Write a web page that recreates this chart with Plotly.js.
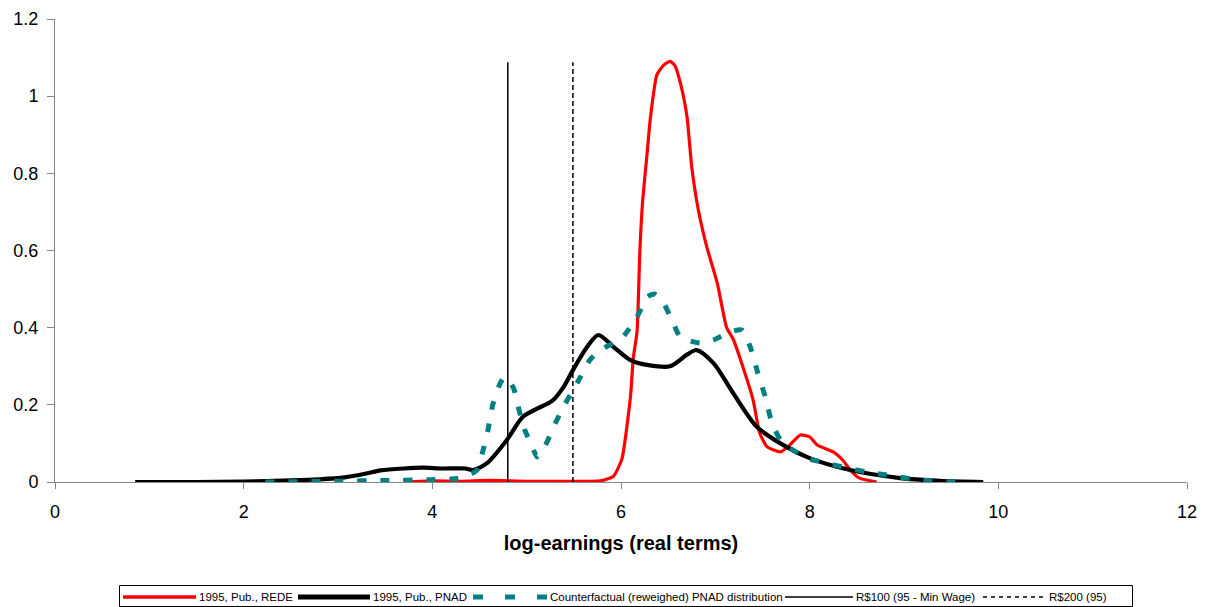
<!DOCTYPE html>
<html>
<head>
<meta charset="utf-8">
<script src="https://cdn.plot.ly/plotly-3.0.1.min.js"></script>
<style>
  html, body { margin: 0; padding: 0; background: #fff; }
  #chart { width: 1209px; height: 607px; }
</style>
</head>
<body>
<div id="chart"></div>
<script>
// Kernel density of log-earnings, public sector 1995
const redeX = [3.72, 4.0, 4.3, 4.6, 5.0, 5.4, 5.78, 5.92, 6.01, 6.10, 6.13, 6.17, 6.20, 6.23, 6.28, 6.31, 6.38, 6.45, 6.52, 6.57, 6.63, 6.70, 6.75, 6.82, 6.91, 7.02, 7.12, 7.19, 7.29, 7.40, 7.47, 7.55, 7.69, 7.79, 7.90, 8.00, 8.08, 8.25, 8.35, 8.43, 8.53, 8.71];
const redeY = [0, 0.003, 0.002, 0.004, 0.002, 0.002, 0.003, 0.015, 0.06, 0.22, 0.32, 0.39, 0.60, 0.73, 0.86, 0.94, 1.055, 1.08, 1.09, 1.08, 1.034, 0.946, 0.816, 0.705, 0.609, 0.516, 0.40, 0.37, 0.30, 0.213, 0.127, 0.091, 0.078, 0.096, 0.122, 0.117, 0.096, 0.078, 0.057, 0.031, 0.01, 0];

const pnadX = [0.85, 1.5, 2.0, 2.5, 2.8, 3.07, 3.3, 3.45, 3.7, 3.9, 4.1, 4.35, 4.43, 4.58, 4.79, 4.96, 5.11, 5.27, 5.39, 5.49, 5.64, 5.76, 5.92, 6.10, 6.29, 6.52, 6.70, 6.80, 6.98, 7.19, 7.44, 7.69, 8.0, 8.43, 8.96, 9.38, 9.84];
const pnadY = [0, 0, 0.001, 0.004, 0.007, 0.012, 0.022, 0.03, 0.035, 0.037, 0.035, 0.035, 0.031, 0.049, 0.109, 0.169, 0.19, 0.21, 0.246, 0.29, 0.35, 0.381, 0.35, 0.316, 0.303, 0.30, 0.33, 0.342, 0.308, 0.23, 0.143, 0.10, 0.062, 0.031, 0.01, 0.003, 0];

const cfX = [2.23, 3.0, 3.5, 4.0, 4.3, 4.47, 4.53, 4.59, 4.64, 4.72, 4.77, 4.86, 4.91, 4.98, 5.06, 5.11, 5.19, 5.28, 5.39, 5.48, 5.57, 5.67, 5.78, 5.92, 6.02, 6.17, 6.28, 6.36, 6.45, 6.54, 6.63, 6.84, 6.98, 7.16, 7.28, 7.37, 7.45, 7.53, 7.60, 7.69, 7.79, 7.97, 8.18, 8.40, 8.61, 8.82, 9.17, 9.52, 9.59];
const cfY = [0, 0.002, 0.004, 0.006, 0.01, 0.03, 0.075, 0.135, 0.20, 0.256, 0.272, 0.244, 0.195, 0.135, 0.091, 0.065, 0.091, 0.14, 0.195, 0.233, 0.272, 0.316, 0.342, 0.36, 0.376, 0.428, 0.48, 0.487, 0.464, 0.42, 0.376, 0.36, 0.368, 0.389, 0.394, 0.35, 0.283, 0.22, 0.153, 0.109, 0.088, 0.062, 0.049, 0.036, 0.026, 0.018, 0.005, 0, 0];

// Reference wage levels (log of R$100 and R$200) and the height of their markers
const minWageLog = 4.80;
const doubleWageLog = 5.49;
const refLineTop = 1.088;

const xTicks = [0, 2, 4, 6, 8, 10, 12];
const yTicks = [0, 0.2, 0.4, 0.6, 0.8, 1, 1.2];

const seriesNames = [
  '1995, Pub., REDE',
  '1995, Pub., PNAD',
  'Counterfactual (reweighed) PNAD distribution',
  'R$100 (95 - Min Wage)',
  'R$200 (95)'
];

const styles = [
  { color: '#FF0000', width: 3.2, shape: 'spline', smoothing: 0.5 },
  { color: '#000000', width: 4.2, shape: 'spline', smoothing: 0.8 },
  { color: '#008080', width: 5, dash: '9px,14px', shape: 'spline', smoothing: 0.6 },
  { color: '#000000', width: 1.5 },
  { color: '#000000', width: 1.5, dash: '5px,3px' }
];

const traces = [
  { x: redeX, y: redeY },
  { x: pnadX, y: pnadY },
  { x: cfX, y: cfY },
  { x: [minWageLog, minWageLog], y: [0, refLineTop] },
  { x: [doubleWageLog, doubleWageLog], y: [0, refLineTop] }
].map((t, i) => Object.assign(t, { name: seriesNames[i], mode: 'lines', line: styles[i], showlegend: false }));

// Plot frame in pixels, used to lay out the boxed legend under the axis title
const W = 1209, H = 607;
const M = { l: 55, r: 22, t: 19, b: 125 };
const plotW = W - M.l - M.r, plotH = H - M.t - M.b;
const px = v => (v - M.l) / plotW;
const py = v => (H - M.b - v) / plotH;

const legendRow = 597;
const legendKeys = [
  { from: 123, to: 196, text: 197, line: { color: '#FF0000', width: 3.5 } },
  { from: 298, to: 370, text: 371, line: { color: '#000000', width: 4.8 } },
  { from: 473, to: 547, text: 548, line: { color: '#008080', width: 5, dash: '10px,22px' } },
  { from: 785, to: 853, text: 854, line: { color: '#000000', width: 1.3 } },
  { from: 983, to: 1045, text: 1047, line: { color: '#000000', width: 1.3, dash: '4px,4px' } }
];

const shapes = [
  { type: 'rect', xref: 'paper', yref: 'paper', x0: px(119.5), x1: px(1132.5), y0: py(585.5), y1: py(606.5),
    line: { color: '#000000', width: 1 }, fillcolor: '#ffffff', layer: 'below' }
].concat(legendKeys.map(k => ({
  type: 'line', xref: 'paper', yref: 'paper', x0: px(k.from), x1: px(k.to), y0: py(legendRow), y1: py(legendRow),
  line: k.line
})));

const annotations = legendKeys.map((k, i) => ({
  xref: 'paper', yref: 'paper', x: px(k.text), y: py(legendRow), xanchor: 'left', yanchor: 'middle',
  text: seriesNames[i], showarrow: false,
  font: { size: 11.5, family: 'Arial, "Liberation Sans", sans-serif', color: '#000000' }
}));

const layout = {
  width: W, height: H,
  margin: M,
  paper_bgcolor: '#ffffff', plot_bgcolor: '#ffffff',
  font: { family: 'Arial, "Liberation Sans", sans-serif', color: '#000000', size: 18 },
  showlegend: false,
  shapes: shapes,
  annotations: annotations,
  xaxis: {
    range: [0, 12], tickvals: xTicks, ticktext: xTicks.map(String),
    showgrid: false, zeroline: false, showline: true, linecolor: '#868686', linewidth: 1,
    ticks: 'outside', ticklen: 6, tickcolor: '#868686', ticklabelstandoff: 7,
    tickfont: { size: 18 },
    title: { text: '<b>log-earnings (real terms)</b>', font: { size: 20 }, standoff: 15 }
  },
  yaxis: {
    range: [0, 1.2], tickvals: yTicks, ticktext: yTicks.map(String),
    showgrid: false, zeroline: false, showline: true, linecolor: '#868686', linewidth: 1,
    ticks: 'outside', ticklen: 7, tickcolor: '#868686', ticklabelstandoff: 5,
    tickfont: { size: 18 }
  }
};

Plotly.newPlot('chart', traces, layout, { displayModeBar: false, staticPlot: true });
</script>
</body>
</html>
